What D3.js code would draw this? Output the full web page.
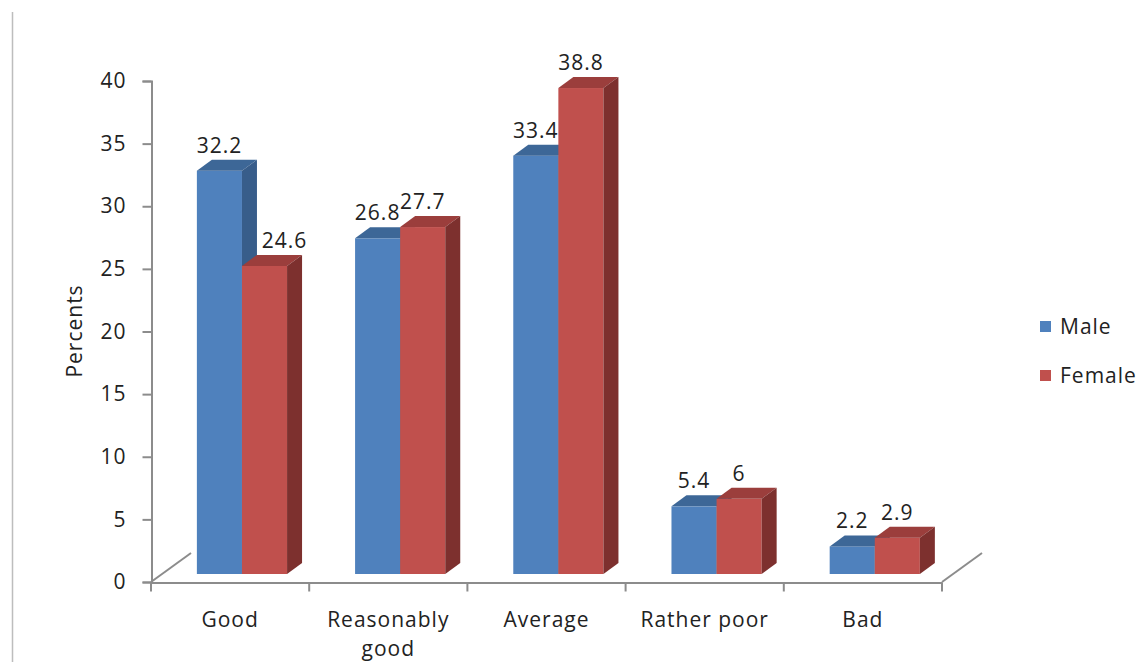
<!DOCTYPE html>
<html>
<head>
<meta charset="utf-8">
<script src="https://cdn.jsdelivr.net/npm/d3@7"></script>
<style>
  html, body { margin: 0; padding: 0; background: #fff; }
  #chart text { font-family: "Open Sans", Lato, sans-serif; font-size: 21px; letter-spacing: 1px; fill: #222; }
</style>
</head>
<body>
<div id="chart"></div>
<script>
// data
const categories = ["Good", "Reasonably good", "Average", "Rather poor", "Bad"];
const seriesNames = ["Male", "Female"];
const maleValues = [32.2, 26.8, 33.4, 5.4, 2.2];
const femaleValues = [24.6, 27.7, 38.8, 6, 2.9];
const yTicks = [0, 5, 10, 15, 20, 25, 30, 35, 40];

(function() {
  let width = 1142, height = 662;
  let colors = [
    {front: "#4f81bd", top: "#3d6797", side: "#385d8a"},
    {front: "#c0504d", top: "#9b3e3c", side: "#7d302e"}
  ];
  // 3d depth of floor and of bars
  let floor = {dx: 40, dy: -29};
  let lift = {dx: 0, dy: -8};
  let depth = {dx: 15, dy: -11};

  let svg = d3.select("#chart").append("svg")
      .attr("width", width)
      .attr("height", height);

  // left frame line
  svg.append("line")
      .attr("x1", 12.5).attr("x2", 12.5)
      .attr("y1", 12).attr("y2", height)
      .attr("stroke", "#bdbdbd").attr("stroke-width", 1.5);

  let x = d3.scaleBand().domain(categories).range([151, 942]);
  let y = d3.scaleLinear().domain([0, 40]).range([582, 81]);
  let bw = x.bandwidth();

  let axisColor = "#8c8c8c";

  // y axis
  let yAxis = d3.axisLeft(y).tickValues(yTicks).tickSize(9).tickPadding(16);
  let gy = svg.append("g")
      .attr("transform", "translate(151.5,0)")
      .call(yAxis);
  gy.select(".domain").attr("stroke", axisColor).attr("stroke-width", 2);
  gy.selectAll(".tick line").attr("stroke", axisColor).attr("stroke-width", 2);
  gy.selectAll(".tick text").attr("font-size", null).attr("font-family", null);

  // x axis
  let xAxis = d3.axisBottom(x).tickSize(0).tickFormat("");
  let gx = svg.append("g")
      .attr("transform", "translate(0,582.5)")
      .call(xAxis);
  gx.select(".domain").attr("stroke", axisColor).attr("stroke-width", 2);
  let bounds = categories.map(c => x(c)).concat([x.range()[1]]);
  gx.selectAll(".xtick")
    .data(bounds)
    .enter().append("line")
      .attr("class", "xtick")
      .attr("x1", d => d).attr("x2", d => d)
      .attr("y1", 0).attr("y2", 9)
      .attr("stroke", axisColor).attr("stroke-width", 2);

  // floor diagonals
  [x.range()[0], x.range()[1]].forEach(px => {
    svg.append("line")
        .attr("x1", px).attr("y1", y(0))
        .attr("x2", px + floor.dx).attr("y2", y(0) + floor.dy)
        .attr("stroke", axisColor).attr("stroke-width", 2);
  });

  // category labels
  svg.selectAll(".cat")
    .data(categories)
    .enter().append("text")
      .attr("class", "cat")
      .attr("text-anchor", "middle")
      .attr("x", d => x(d) + bw / 2)
      .attr("y", 627)
      .each(function(d) {
        let words = d === "Reasonably good" ? ["Reasonably", "good"] : [d];
        let t = d3.select(this);
        words.forEach((w, i) => {
          t.append("tspan")
            .attr("x", x(d) + bw / 2)
            .attr("dy", i === 0 ? 0 : 29)
            .text(w);
        });
      });

  // y title
  svg.append("text")
      .attr("transform", "translate(82,331) rotate(-90)")
      .attr("text-anchor", "middle")
      .text("Percents");

  // bars
  let barW = bw * 0.285;
  let rows = [];
  categories.forEach((c, i) => {
    [maleValues[i], femaleValues[i]].forEach((v, s) => {
      rows.push({cat: c, value: v, s: s});
    });
  });

  let bars = svg.selectAll(".bar")
    .data(rows)
    .enter().append("g")
      .attr("class", "bar");

  bars.each(function(d) {
    let g = d3.select(this);
    let x0 = x(d.cat) + bw * 0.29 + d.s * barW + lift.dx;
    let x1 = x0 + barW;
    let yb = y(0) + lift.dy;
    let yt = y(d.value) + lift.dy;
    let c = colors[d.s];
    g.append("rect")
        .attr("x", x0).attr("y", yt)
        .attr("width", barW).attr("height", yb - yt)
        .attr("fill", c.front);
    g.append("polygon")
        .attr("points", [[x0, yt], [x0 + depth.dx, yt + depth.dy],
          [x1 + depth.dx, yt + depth.dy], [x1, yt]].join(" "))
        .attr("fill", c.top);
    g.append("polygon")
        .attr("points", [[x1, yt], [x1 + depth.dx, yt + depth.dy],
          [x1 + depth.dx, yb + depth.dy], [x1, yb]].join(" "))
        .attr("fill", c.side);
    // value label ("24.6" is nudged right in the reference to clear the taller bar)
    let shift = (d.cat === "Good" && d.s === 1) ? 20 : 0;
    g.append("text")
        .attr("text-anchor", "middle")
        .attr("x", x0 + barW / 2 + shift)
        .attr("y", yt - 18)
        .text(d.value);
  });

  // legend
  let legend = svg.append("g").attr("transform", "translate(1040,321)");
  seriesNames.forEach((n, i) => {
    legend.append("rect")
        .attr("x", 0).attr("y", i * 49)
        .attr("width", 11).attr("height", 11)
        .attr("fill", colors[i].front);
    legend.append("text")
        .attr("x", 20).attr("y", i * 49 + 13)
        .text(n);
  });
})();
</script>
</body>
</html>
